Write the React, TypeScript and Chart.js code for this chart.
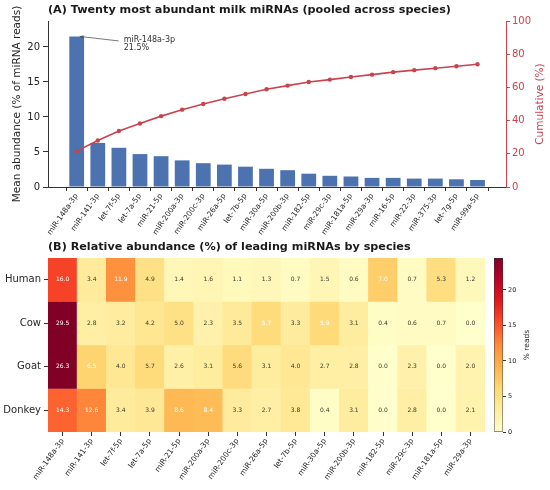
import React, { useEffect, useRef } from 'react';
import Chart from 'chart.js/auto';

const FONT = 'DejaVu Sans';
Chart.defaults.font.family = FONT;
Chart.defaults.color = '#262626';

const BLUE = '#4c72b0';
const RED = '#c9434f';
const AXIS = '#333333';

// (A) pooled top 20
const topMiRNAs = [
  'miR-148a-3p', 'miR-141-3p', 'let-7f-5p', 'let-7a-5p', 'miR-21-5p',
  'miR-200a-3p', 'miR-200c-3p', 'miR-26a-5p', 'let-7b-5p', 'miR-30a-5p',
  'miR-200b-3p', 'miR-182-5p', 'miR-29c-3p', 'miR-181a-5p', 'miR-29a-3p',
  'miR-16-5p', 'miR-22-3p', 'miR-375-3p', 'let-7g-5p', 'miR-99a-5p',
];
const meanAbundance = [21.5, 6.3, 5.6, 4.7, 4.4, 3.8, 3.4, 3.2, 2.9, 2.6, 2.4, 1.9, 1.6, 1.5, 1.3, 1.3, 1.2, 1.2, 1.1, 1.0];
const cumulativePct = [21.6, 28.0, 33.7, 38.3, 42.7, 46.6, 50.0, 53.2, 56.0, 58.9, 61.1, 63.3, 64.7, 66.3, 67.7, 69.2, 70.4, 71.6, 72.8, 74.0];
const abundanceTicks = [0, 5, 10, 15, 20];
const cumulativeTicks = [0, 20, 40, 60, 80, 100];

// (B) heatmap by species
const species = ['Human', 'Cow', 'Goat', 'Donkey'];
const heatMiRNAs = [
  'miR-148a-3p', 'miR-141-3p', 'let-7f-5p', 'let-7a-5p', 'miR-21-5p',
  'miR-200a-3p', 'miR-200c-3p', 'miR-26a-5p', 'let-7b-5p', 'miR-30a-5p',
  'miR-200b-3p', 'miR-182-5p', 'miR-29c-3p', 'miR-181a-5p', 'miR-29a-3p',
];
const humanPct = [16.0, 3.4, 11.9, 4.9, 1.4, 1.6, 1.1, 1.3, 0.7, 1.5, 0.6, 7.0, 0.7, 5.3, 1.2];
const cowPct = [29.5, 2.8, 3.2, 4.2, 5.0, 2.3, 3.5, 5.72, 3.3, 5.9, 3.1, 0.4, 0.6, 0.7, 0.0];
const goatPct = [26.3, 6.5, 4.0, 5.68, 2.6, 3.1, 5.6, 3.1, 4.0, 2.7, 2.8, 0.0, 2.3, 0.0, 2.0];
const donkeyPct = [14.3, 12.6, 3.4, 3.9, 8.6, 8.4, 3.3, 2.7, 3.8, 0.4, 3.1, 0.0, 2.8, 0.0, 2.1];
const speciesPct = [humanPct, cowPct, goatPct, donkeyPct];
const colorbarTicks = [0, 5, 10, 15, 20];
const colorMax = 24.5;
const whiteTextAbove = 5.7;

const YLORRD = ['#ffffcc', '#ffeda0', '#fed976', '#feb24c', '#fd8d3c', '#fc4e2a', '#e31a1c', '#bd0026', '#800026'];

function hexRgb(h: string) {
  return [1, 3, 5].map((i) => parseInt(h.slice(i, i + 2), 16));
}

function ylOrRd(v: number) {
  const t = Math.min(Math.max(v / colorMax, 0), 1) * (YLORRD.length - 1);
  const i = Math.min(Math.floor(t), YLORRD.length - 2);
  const f = t - i;
  const a = hexRgb(YLORRD[i]);
  const b = hexRgb(YLORRD[i + 1]);
  const c = a.map((x, k) => Math.round(x + (b[k] - x) * f));
  return `rgb(${c[0]},${c[1]},${c[2]})`;
}

function sideTitle(id: string, text: string, offset: number, size: number, color: string) {
  return {
    id,
    afterDraw(chart: any) {
      const { ctx, chartArea } = chart;
      ctx.save();
      ctx.translate(chartArea.right + offset, (chartArea.top + chartArea.bottom) / 2);
      ctx.rotate(-Math.PI / 2);
      ctx.fillStyle = color;
      ctx.font = `${size}px ${FONT}`;
      ctx.textAlign = 'center';
      ctx.textBaseline = 'middle';
      ctx.fillText(text, 0, 0);
      ctx.restore();
    },
  };
}

const annotatePlugin = {
  id: 'topAnnotation',
  afterDatasetsDraw(chart: any) {
    const { ctx, scales } = chart;
    const px = scales.x.getPixelForValue(0);
    const py = scales.y.getPixelForValue(meanAbundance[0]);
    const tx = px + 47;
    const ty = py + 3;
    ctx.save();
    ctx.strokeStyle = '#555';
    ctx.fillStyle = '#555';
    ctx.lineWidth = 0.8;
    ctx.beginPath();
    ctx.moveTo(tx - 5, ty + 1.5);
    ctx.lineTo(px + 3, py);
    ctx.stroke();
    const ang = Math.atan2(py - (ty + 1.5), px + 3 - (tx - 5));
    ctx.beginPath();
    ctx.moveTo(px + 3, py);
    ctx.lineTo(px + 3 - 4 * Math.cos(ang - 0.4), py - 4 * Math.sin(ang - 0.4));
    ctx.lineTo(px + 3 - 4 * Math.cos(ang + 0.4), py - 4 * Math.sin(ang + 0.4));
    ctx.closePath();
    ctx.fill();
    ctx.fillStyle = '#333';
    ctx.font = `8px ${FONT}`;
    ctx.textBaseline = 'middle';
    ctx.fillText(topMiRNAs[0], tx, ty);
    ctx.fillText(`${meanAbundance[0].toFixed(1)}%`, tx, ty + 8.6);
    ctx.restore();
  },
};

const cellLabelPlugin = {
  id: 'cellLabels',
  afterDatasetsDraw(chart: any) {
    const { ctx } = chart;
    ctx.save();
    ctx.font = `6px ${FONT}`;
    ctx.textAlign = 'center';
    ctx.textBaseline = 'middle';
    speciesPct.forEach((vals, r) => {
      const meta = chart.getDatasetMeta(r);
      meta.data.forEach((el: any, i: number) => {
        const v = vals[i];
        ctx.fillStyle = v > whiteTextAbove ? '#ffffff' : '#3a3a2a';
        ctx.fillText(v.toFixed(1), el.x, (el.y + el.base) / 2);
      });
    });
    ctx.restore();
  },
};

function tickGrid(color: string, len: number) {
  return { drawOnChartArea: false, drawTicks: true, tickLength: len, color, lineWidth: 1 };
}

function ParetoChart() {
  const ref = useRef<HTMLCanvasElement>(null);
  useEffect(() => {
    if (!ref.current) return;
    const chart = new Chart(ref.current, {
      type: 'bar',
      data: {
        datasets: [
          {
            type: 'line',
            label: 'Cumulative (%)',
            data: cumulativePct.map((y, i) => ({ x: i, y })),
            yAxisID: 'y2',
            borderColor: RED,
            backgroundColor: RED,
            borderWidth: 1.6,
            pointRadius: 2.2,
            pointBorderWidth: 0,
            pointBackgroundColor: RED,
            order: 0,
          } as any,
          {
            type: 'bar',
            label: 'Mean abundance',
            data: meanAbundance.map((y, i) => ({ x: i, y })),
            yAxisID: 'y',
            backgroundColor: BLUE,
            barPercentage: 0.7,
            categoryPercentage: 1,
            order: 1,
          } as any,
        ],
      },
      options: {
        animation: false,
        responsive: true,
        maintainAspectRatio: false,
        layout: { padding: { left: 0, right: 0, top: 0, bottom: 0 } },
        plugins: {
          legend: { display: false },
          tooltip: { enabled: false },
          title: {
            display: true,
            text: '(A) Twenty most abundant milk miRNAs (pooled across species)',
            align: 'start',
            fullSize: false,
            color: '#1a1a1a',
            font: { size: 11.2, weight: 'bold' },
            padding: { top: 3, bottom: 4.6 },
          },
        },
        scales: {
          x: {
            type: 'linear',
            min: -1.36,
            max: 20.35,
            offset: false,
            afterBuildTicks: (a: any) => {
              a.ticks = topMiRNAs.map((_, i) => ({ value: i }));
            },
            afterFit: (a: any) => {
              a.height = 55;
            },
            ticks: {
              autoSkip: false,
              minRotation: 55,
              maxRotation: 55,
              padding: 1,
              font: { size: 7.5 },
              callback: (v: any) => topMiRNAs[v],
            },
            grid: tickGrid(AXIS, 4),
            border: { color: AXIS, width: 1 },
          },
          y: {
            position: 'left',
            min: 0,
            max: 23.7,
            afterBuildTicks: (a: any) => {
              a.ticks = abundanceTicks.map((value) => ({ value }));
            },
            afterFit: (a: any) => {
              a.width = 48;
            },
            ticks: { font: { size: 10 }, padding: 3 },
            title: {
              display: true,
              text: 'Mean abundance (% of miRNA reads)',
              font: { size: 10.5 },
              color: '#262626',
              padding: { top: 11, bottom: 0 },
            },
            grid: tickGrid(AXIS, 5),
            border: { color: AXIS, width: 1 },
          },
          y2: {
            position: 'right',
            min: 0,
            max: 100,
            afterBuildTicks: (a: any) => {
              a.ticks = cumulativeTicks.map((value) => ({ value }));
            },
            afterFit: (a: any) => {
              a.width = 44;
            },
            ticks: { font: { size: 10 }, padding: 2, color: RED },
            grid: tickGrid(RED, 4),
            border: { color: RED, width: 1 },
          },
        },
      } as any,
      plugins: [annotatePlugin, sideTitle('cumTitle', 'Cumulative (%)', 34.7, 10.5, RED)],
    });
    return () => chart.destroy();
  }, []);
  return <canvas ref={ref} />;
}

function HeatmapChart() {
  const ref = useRef<HTMLCanvasElement>(null);
  useEffect(() => {
    if (!ref.current) return;
    const chart = new Chart(ref.current, {
      type: 'bar',
      data: {
        labels: heatMiRNAs,
        datasets: speciesPct.map((vals, r) => ({
          label: species[r],
          data: vals.map(() => [r - 0.5, r + 0.5]),
          backgroundColor: vals.map((v) => ylOrRd(v)),
          borderWidth: 0,
          grouped: false,
          barPercentage: 1,
          categoryPercentage: 1,
        })) as any,
      },
      options: {
        animation: false,
        responsive: true,
        maintainAspectRatio: false,
        layout: { padding: { left: 0, right: 5, top: 0, bottom: 0 } },
        plugins: {
          legend: { display: false },
          tooltip: { enabled: false },
          title: {
            display: true,
            text: '(B) Relative abundance (%) of leading miRNAs by species',
            align: 'start',
            fullSize: false,
            color: '#1a1a1a',
            font: { size: 11.2, weight: 'bold' },
            padding: { top: 4, bottom: 4.6 },
          },
        },
        scales: {
          x: {
            type: 'category',
            offset: true,
            afterFit: (a: any) => {
              a.height = 58;
            },
            ticks: {
              autoSkip: false,
              minRotation: 55,
              maxRotation: 55,
              padding: 1,
              font: { size: 7.5 },
            },
            grid: { ...tickGrid(AXIS, 4), offset: false },
            border: { display: false },
          },
          y: {
            type: 'linear',
            min: -0.5,
            max: 3.5,
            reverse: true,
            afterBuildTicks: (a: any) => {
              a.ticks = species.map((_, i) => ({ value: i }));
            },
            afterFit: (a: any) => {
              a.width = 48;
            },
            ticks: { font: { size: 10 }, padding: 3, callback: (v: any) => species[v] },
            grid: tickGrid(AXIS, 4),
            border: { display: false },
          },
        },
      } as any,
      plugins: [cellLabelPlugin],
    });
    return () => chart.destroy();
  }, []);
  return <canvas ref={ref} />;
}

function ColorbarChart() {
  const ref = useRef<HTMLCanvasElement>(null);
  useEffect(() => {
    if (!ref.current) return;
    const chart = new Chart(ref.current, {
      type: 'bar',
      data: {
        labels: ['% reads'],
        datasets: [
          {
            label: '% reads',
            data: [[0, colorMax]],
            backgroundColor: (c: any) => {
              const area = c.chart.chartArea;
              if (!area) return YLORRD[0];
              const g = c.chart.ctx.createLinearGradient(0, area.bottom, 0, area.top);
              YLORRD.forEach((col, i) => g.addColorStop(i / (YLORRD.length - 1), col));
              return g;
            },
            borderColor: AXIS,
            borderWidth: 0.8,
            borderSkipped: false,
            barPercentage: 1,
            categoryPercentage: 1,
          } as any,
        ],
      },
      options: {
        animation: false,
        responsive: true,
        maintainAspectRatio: false,
        layout: { padding: { left: 9, right: 0, top: 22, bottom: 58 } },
        plugins: { legend: { display: false }, tooltip: { enabled: false } },
        scales: {
          x: { display: false },
          y: {
            position: 'right',
            min: 0,
            max: colorMax,
            afterBuildTicks: (a: any) => {
              a.ticks = colorbarTicks.map((value) => ({ value }));
            },
            afterFit: (a: any) => {
              a.width = 47;
            },
            ticks: { font: { size: 6.5 }, padding: 2 },
            grid: tickGrid(AXIS, 3),
            border: { display: false },
          },
        },
      } as any,
      plugins: [sideTitle('cbTitle', '% reads', 24, 7.5, '#262626')],
    });
    return () => chart.destroy();
  }, []);
  return <canvas ref={ref} />;
}

export default function App() {
  return (
    <div style={{ position: 'fixed', left: 0, top: 0, width: 550, height: 490, background: '#fff' }}>
      <div style={{ position: 'absolute', left: 0, top: 0, width: 550, height: 242 }}>
        <ParetoChart />
      </div>
      <div style={{ position: 'absolute', left: 0, top: 236, width: 490, height: 254 }}>
        <HeatmapChart />
      </div>
      <div style={{ position: 'absolute', left: 485, top: 236, width: 65, height: 254 }}>
        <ColorbarChart />
      </div>
    </div>
  );
}
